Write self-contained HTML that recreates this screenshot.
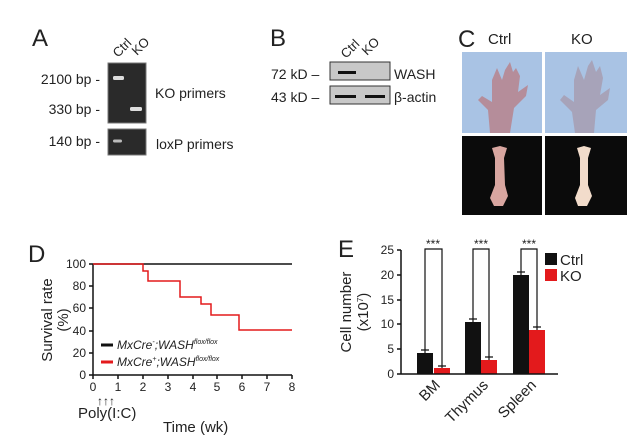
<!DOCTYPE html>
<html><head><meta charset="utf-8"><style>
html,body{margin:0;padding:0;background:#fff}
svg{display:block}
text{font-family:"Liberation Sans",Arial,sans-serif;fill:#222}
</style></head><body>
<svg width="640" height="448" viewBox="0 0 640 448" xmlns="http://www.w3.org/2000/svg">
<!-- Panel A -->
<text x="32" y="46" font-size="24">A</text>
<text transform="translate(118,58) rotate(-45)" font-size="13">Ctrl</text>
<text transform="translate(137,56) rotate(-45)" font-size="13">KO</text>
<rect x="108" y="63" width="38" height="60" fill="#2a2a2a" stroke="#777"/>
<rect x="108" y="129" width="38" height="26" fill="#2a2a2a" stroke="#777"/>
<rect x="113" y="76" width="11" height="4" rx="1.5" fill="#ddd"/>
<rect x="130" y="107" width="12" height="4" rx="1.5" fill="#ddd"/>
<rect x="113" y="139.5" width="9" height="3" rx="1.5" fill="#bbb"/>
<text x="100" y="84" font-size="14" text-anchor="end">2100 bp -</text>
<text x="100" y="114" font-size="14" text-anchor="end">330 bp -</text>
<text x="100" y="146" font-size="14" text-anchor="end">140 bp -</text>
<text x="155" y="98" font-size="14">KO primers</text>
<text x="156" y="149" font-size="14">loxP primers</text>
<!-- Panel B -->
<text x="270" y="46" font-size="24">B</text>
<text transform="translate(346,59) rotate(-45)" font-size="13">Ctrl</text>
<text transform="translate(367,56) rotate(-45)" font-size="13">KO</text>
<rect x="330" y="62" width="60" height="18" fill="#c8c8c8" stroke="#333"/>
<rect x="330" y="86" width="60" height="18" fill="#c8c8c8" stroke="#333"/>
<rect x="338" y="71" width="18" height="3" fill="#111"/>
<rect x="335" y="95" width="21" height="3" fill="#111"/>
<rect x="365" y="95" width="20" height="3" fill="#111"/>
<text x="271" y="79" font-size="14">72 kD –</text>
<text x="271" y="102" font-size="14">43 kD –</text>
<text x="394" y="79" font-size="14">WASH</text>
<text x="394" y="102" font-size="14">β-actin</text>
<!-- Panel C -->
<text x="458" y="47" font-size="24">C</text>
<text x="488" y="44" font-size="15">Ctrl</text>
<text x="571" y="44" font-size="15">KO</text>
<rect x="462" y="52" width="80" height="81" fill="#a9c3e4"/>
<rect x="545" y="52" width="82" height="81" fill="#a9c3e4"/>
<g fill="#b58d9a">
<path d="M490 133 L488 110 L478 100 L482 96 L492 102 L492 80 L497 68 L502 80 L505 70 L510 62 L513 72 L516 68 L520 76 L518 92 L528 85 L526 96 L514 108 L510 133 Z"/>
</g>
<g fill="#a7a3b9">
<path d="M575 133 L572 112 L560 100 L564 95 L574 102 L574 80 L578 66 L584 80 L588 66 L592 60 L596 72 L600 66 L603 78 L600 95 L610 88 L608 100 L596 110 L594 133 Z"/>
</g>
<rect x="462" y="136" width="80" height="79" fill="#0b0b0b"/>
<rect x="545" y="136" width="82" height="79" fill="#0b0b0b"/>
<path d="M492 148 L500 146 L507 148 L504 158 L505 185 L508 196 L503 206 L494 206 L490 198 L495 185 L495 158 Z" fill="#d8a6a0"/>
<path d="M577 148 L584 146 L591 148 L588 158 L588 185 L592 196 L587 206 L578 206 L575 198 L580 185 L580 158 Z" fill="#f2dccb"/>
<!-- Panel D -->
<text x="28" y="262" font-size="24">D</text>
<text transform="translate(52,320) rotate(-90)" font-size="15" text-anchor="middle">Survival rate</text>
<text transform="translate(68,320) rotate(-90)" font-size="15" text-anchor="middle">(%)</text>
<g stroke="#111" stroke-width="1.5" fill="none">
<line x1="93" y1="264" x2="93" y2="375"/>
<line x1="93" y1="375" x2="292" y2="375"/>
<line x1="89" y1="264" x2="93" y2="264"/><line x1="89" y1="286" x2="93" y2="286"/><line x1="89" y1="308" x2="93" y2="308"/><line x1="89" y1="331" x2="93" y2="331"/><line x1="89" y1="353" x2="93" y2="353"/><line x1="89" y1="375" x2="93" y2="375"/>
<line x1="93" y1="375" x2="93" y2="379"/><line x1="118" y1="375" x2="118" y2="379"/><line x1="143" y1="375" x2="143" y2="379"/><line x1="168" y1="375" x2="168" y2="379"/><line x1="193" y1="375" x2="193" y2="379"/><line x1="217" y1="375" x2="217" y2="379"/><line x1="242" y1="375" x2="242" y2="379"/><line x1="267" y1="375" x2="267" y2="379"/><line x1="292" y1="375" x2="292" y2="379"/>
<line x1="93" y1="264" x2="292" y2="264"/>
</g>
<path d="M93 264 H143 V271 H148 V281 H180 V297 H201 V304 H211 V315 H239 V330 H292" stroke="#e31a1c" stroke-width="1.5" fill="none"/>
<g font-size="12" text-anchor="end">
<text x="86" y="268">100</text><text x="86" y="290">80</text><text x="86" y="312">60</text><text x="86" y="335">40</text><text x="86" y="357">20</text><text x="86" y="379">0</text>
</g>
<g font-size="12" text-anchor="middle">
<text x="93" y="391">0</text><text x="118" y="391">1</text><text x="143" y="391">2</text><text x="168" y="391">3</text><text x="193" y="391">4</text><text x="217" y="391">5</text><text x="242" y="391">6</text><text x="267" y="391">7</text><text x="292" y="391">8</text>
</g>
<line x1="101" y1="345" x2="113" y2="345" stroke="#111" stroke-width="3"/>
<line x1="101" y1="362" x2="113" y2="362" stroke="#e31a1c" stroke-width="3"/>
<text x="117" y="349" font-size="12" font-style="italic">MxCre<tspan font-size="7" dy="-5">-</tspan><tspan dy="5">;WASH</tspan><tspan font-size="7" dy="-5">flox/flox</tspan></text>
<text x="117" y="366" font-size="12" font-style="italic">MxCre<tspan font-size="7" dy="-5">+</tspan><tspan dy="5">;WASH</tspan><tspan font-size="7" dy="-5">flox/flox</tspan></text>
<text x="97" y="405" font-size="12" font-weight="bold">↑↑↑</text>
<text x="78" y="418" font-size="15">Poly(I:C)</text>
<text x="163" y="432" font-size="15">Time (wk)</text>
<!-- Panel E -->
<text x="338" y="257" font-size="24">E</text>
<text transform="translate(351,312) rotate(-90)" font-size="15" text-anchor="middle">Cell number</text>
<text transform="translate(368,312) rotate(-90)" font-size="15" text-anchor="middle">(x10<tspan font-size="8" dy="-5">7</tspan><tspan dy="5">)</tspan></text>
<g fill="#111">
<rect x="417" y="353" width="16" height="21"/><rect x="465" y="322" width="16" height="52"/><rect x="513" y="275" width="16" height="99"/>
</g>
<g fill="#e31a1c">
<rect x="434" y="368" width="16" height="6"/><rect x="481" y="360" width="16" height="14"/><rect x="529" y="330" width="16" height="44"/>
</g>
<g stroke="#111" stroke-width="1.2" fill="none">
<path d="M421 350H429M425 350V353 M438 366H446M442 366V368 M469 319H477M473 319V322 M485 357H493M489 357V360 M517 272H525M521 272V275 M533 327H541M537 327V330"/>
<path d="M425 350V249H442V366 M473 319V249H489V357 M521 272V249H537V327"/>
</g>
<g stroke="#111" stroke-width="1.5" fill="none">
<line x1="401" y1="250" x2="401" y2="374"/><line x1="401" y1="374" x2="558" y2="374"/>
<line x1="397" y1="250" x2="401" y2="250"/><line x1="397" y1="275" x2="401" y2="275"/><line x1="397" y1="300" x2="401" y2="300"/><line x1="397" y1="324" x2="401" y2="324"/><line x1="397" y1="349" x2="401" y2="349"/><line x1="397" y1="374" x2="401" y2="374"/>
</g>
<g font-size="12" text-anchor="end">
<text x="394" y="254">25</text><text x="394" y="279">20</text><text x="394" y="304">15</text><text x="394" y="328">10</text><text x="394" y="353">5</text><text x="394" y="378">0</text>
</g>
<g font-size="12" text-anchor="middle"><text x="433" y="248">***</text><text x="481" y="248">***</text><text x="529" y="248">***</text></g>
<rect x="545" y="253" width="12" height="12" fill="#111"/>
<rect x="545" y="269" width="12" height="12" fill="#e31a1c"/>
<text x="560" y="265" font-size="15">Ctrl</text>
<text x="560" y="281" font-size="15">KO</text>
<g font-size="15" text-anchor="end">
<text transform="translate(441,386) rotate(-45)">BM</text>
<text transform="translate(489,386) rotate(-45)">Thymus</text>
<text transform="translate(537,386) rotate(-45)">Spleen</text>
</g>
</svg>
</body></html>
